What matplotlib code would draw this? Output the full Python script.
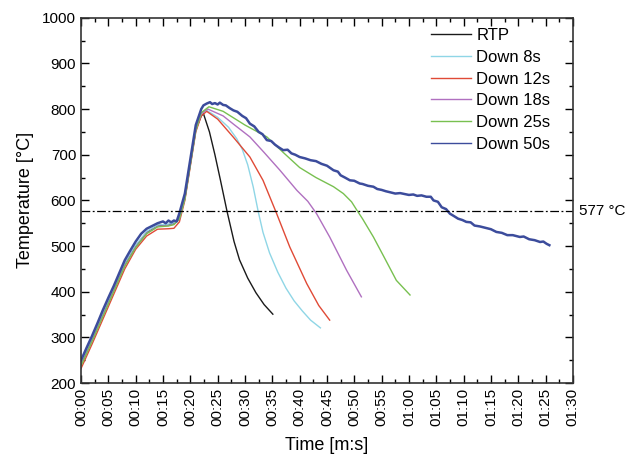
import matplotlib
matplotlib.use("Agg")
import matplotlib.pyplot as plt
from matplotlib.ticker import MultipleLocator, FuncFormatter
from matplotlib.lines import Line2D

plt.rcParams['font.family'] = ['Liberation Sans', 'DejaVu Sans']

# ---- data (time in s, temperature in degC) ----
rtp_t = [0, 2, 4, 6, 8, 10, 12, 14, 16, 17, 18, 19, 20, 21, 22, 22.4, 23.5, 24.5, 25.5, 26.7, 28, 29, 30.5, 32, 33.5, 35.1]
rtp_T = [242, 295, 350, 405, 460, 500, 530, 545, 547, 550, 562, 605, 680, 755, 785, 790, 750, 700, 645, 577, 510, 470, 430, 398, 372, 351]

d8_t = [0, 2, 4, 6, 8, 10, 12, 14, 16, 17, 18, 19, 20, 21, 22, 23, 25, 27, 28.5, 29.5, 30.5, 31.5, 32.4, 33.3, 34.5, 36, 37.5, 39, 40.5, 42, 43.8]
d8_T = [244, 297, 352, 407, 462, 502, 532, 546, 548, 551, 563, 606, 682, 757, 790, 797, 782, 760, 735, 712, 678, 630, 577, 530, 485, 443, 408, 380, 358, 338, 321]

d12_t = [0, 2, 4, 6, 8, 10, 12, 14, 16, 17, 18, 19, 20, 21, 22, 23, 25, 27.9, 30.9, 33.3, 35.8, 38.2, 41.3, 43.5, 45.5]
d12_T = [232, 285, 340, 395, 450, 493, 522, 537, 538, 539, 553, 600, 675, 750, 785, 795, 778, 738, 695, 644, 571, 498, 418, 370, 338]

d18_t = [0, 2, 4, 6, 8, 10, 12, 14, 16, 17, 18, 19, 20, 21, 22, 23.2, 26, 28, 30.9, 33.5, 36.4, 39.5, 41.5, 43.1, 45.5, 48.6, 51.3]
d18_T = [240, 293, 348, 403, 458, 498, 528, 543, 545, 548, 560, 604, 679, 754, 790, 800, 785, 766, 739, 705, 666, 622, 598, 571, 520, 447, 389]

d25_t = [0, 2, 4, 6, 8, 10, 12, 14, 16, 17, 18, 19, 20, 21, 22, 23.4, 26, 30, 34, 37, 40, 43, 46.2, 48, 49.5, 50.4, 51.5, 53.5, 55.5, 57.7, 60.2]
d25_T = [238, 291, 346, 401, 456, 497, 527, 542, 544, 547, 559, 603, 678, 753, 792, 805, 795, 765, 739, 705, 672, 650, 630, 615, 597, 580, 560, 520, 475, 425, 393]

d50_t = [0, 1, 2, 3, 4, 5, 6, 7, 8, 9, 10, 11, 12, 13, 14, 15, 15.5, 16, 16.5, 17, 17.5, 18, 19, 20, 21, 22, 22.4, 23, 23.6, 24, 24.5, 25, 25.4, 26, 26.5, 27.2, 27.9, 28.6, 29.5, 30.2, 30.9, 31.7, 32.5, 33.2, 34, 34.8, 35.5, 36.2, 37, 37.8, 38.5, 39.2, 40, 41, 42, 43, 44, 45, 46.2, 47, 47.5, 48.3, 49.2, 50, 51, 51.5, 52.5, 53.5, 54.2, 55, 55.8, 56.5, 57.5, 58.4, 59.2, 60, 60.8, 61.5, 62.3, 63.2, 64, 64.5, 65.3, 66, 66.8, 67.5, 68.2, 69, 69.8, 70.5, 71.3, 72, 73, 74, 75, 76, 77, 78, 79, 80.3, 81, 82, 83, 84, 84.6, 85.2, 85.7]
d50_T = [250, 277, 303, 331, 360, 387, 413, 441, 469, 490, 510, 527, 538, 544, 550, 554, 550, 556, 552, 556, 554, 572, 615, 690, 765, 800, 808, 812, 815, 811, 813, 810, 814, 809, 808, 802, 797, 794, 785, 780, 768, 762, 750, 745, 732, 730, 722, 716, 710, 711, 703, 700, 695, 692, 688, 686, 680, 676, 666, 663, 655, 650, 644, 643, 637, 636, 632, 630, 625, 623, 620, 618, 615, 616, 614, 612, 613, 610, 611, 608, 608, 600, 597, 585, 581, 571, 566, 560, 557, 553, 552, 545, 543, 540, 537, 531, 529, 524, 524, 520, 521, 515, 513, 509, 510, 505, 502]

labels = ['RTP', 'Down 8s', 'Down 12s', 'Down 18s', 'Down 25s', 'Down 50s']
colors = ['#1a1a1a', '#8fd6e6', '#e04a36', '#b070c0', '#78c050', '#3c4c9c']
widths = [1.0, 1.0, 1.0, 1.0, 1.0, 1.8]

eutectic = 577
xticks = list(range(0, 91, 5))
ylim = (200, 1000)

fig = plt.figure(figsize=(6.33, 4.65), dpi=100)
ax = fig.add_axes([0.128, 0.176, 0.777, 0.786])

series = [(rtp_t, rtp_T), (d8_t, d8_T), (d12_t, d12_T), (d18_t, d18_T), (d25_t, d25_T), (d50_t, d50_T)]
for (t, T), lab, c, w in zip(series, labels, colors, widths):
    ax.plot(t, T, color=c, lw=w, label=lab)

ax.axhline(eutectic, color='black', lw=0.9, linestyle=(0, (7, 2, 1.5, 2)))
ax.text(1.012, eutectic, '577 °C', transform=ax.get_yaxis_transform(), va='center', ha='left', fontsize=11)

ax.set_xlim(0, 90)
ax.set_ylim(*ylim)
ax.set_xticks(xticks)
ax.xaxis.set_major_formatter(FuncFormatter(lambda v, p: '%02d:%02d' % (int(v) // 60, int(v) % 60)))
ax.xaxis.set_minor_locator(MultipleLocator(2.5))
ax.yaxis.set_major_locator(MultipleLocator(100))
ax.yaxis.set_minor_locator(MultipleLocator(50))
ax.tick_params(which='both', direction='in', top=True, right=True, labelsize=11, width=1.0)
ax.tick_params(which='major', length=6)
ax.tick_params(which='minor', length=3)
ax.tick_params(axis='y', which='both', right=True, labelright=False)
plt.setp(ax.get_xticklabels(), rotation=90)
for s in ax.spines.values():
    s.set_linewidth(1.2)
    s.set_color('#333333')

ax.set_xlabel('Time [m:s]', fontsize=13, labelpad=8)
ax.set_ylabel('Temperature [°C]', fontsize=13, labelpad=6)

handles = [Line2D([], [], color=c, lw=1.0) for c in colors]
leg = ax.legend(handles, labels, loc='upper right', bbox_to_anchor=(0.985, 1.012), frameon=False, fontsize=12,
                handlelength=2.4, handletextpad=0.3, labelspacing=0.4)

fig.savefig('out.png', dpi=100)
